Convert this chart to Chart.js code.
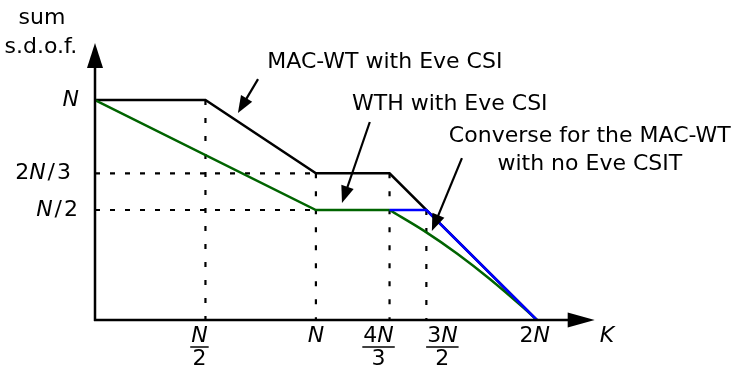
<!DOCTYPE html>
<html lang="en">
<head>
<meta charset="UTF-8">
<title>Sum s.d.o.f. versus K</title>
<script src="https://cdn.jsdelivr.net/npm/chart.js"></script>
<style>
    body { margin: 0; background: #ffffff; }
    .wrap { position: relative; width: 731px; height: 366px; }
</style>
</head>
<body>
<div class="wrap"><canvas id="sdofChart"></canvas></div>
<script>
// every value is in units of N
const macWtK    = [0, 0.5, 1, 4/3, 2];
const macWtSdof = [1, 1, 2/3, 2/3, 0];

const wthK    = [0, 1, 4/3];
const wthSdof = [1, 0.5, 0.5];
// curved tail of the WTH scheme
const wthCurveK    = [4/3, 1.49, 1.64, 1.79, 1.94, 2];
const wthCurveSdof = [0.5, 0.405, 0.301, 0.184, 0.055, 0];

const converseK    = [4/3, 1.5, 2];
const converseSdof = [0.5, 0.5, 0];

// dotted guides: verticals drop from the curve, horizontals run to K = N
const guideK      = [0.5, 1, 4/3, 1.5];
const guideTop    = [1, 2/3, 2/3, 0.5];
const guideLevels = [2/3, 0.5];
const guideLevelEnd = 1;

// tick labels ('|' = stacked fraction)
const xTickValues = [0.5, 1, 4/3, 1.5, 2];
const xTickLabels = ['N|2', 'N', '4N|3', '3N|2', '2N'];
const yTickValues = [1, 2/3, 0.5];
const yTickLabels = ['N', '2N/3', 'N/2'];

const FONT = 'DejaVu Sans';
const SIZE = 22;

// layout only (pixels / data positions of labels and callouts)
const xLabelShift = [-6, 0, -11, 16, -2];
const yLabelRight = [79, 71, 78];
const notes = [
    { lines: ['MAC-WT with Eve CSI'], x: 1.312, y: 1.145, from: [0.738, 1.095], to: [0.647, 0.941] },
    { lines: ['WTH with Eve CSI'], x: 1.606, y: 0.955, from: [1.244, 0.90], to: [1.118, 0.532] },
    { lines: ['Converse for the MAC-WT', 'with no Eve CSIT'], x: 2.24, y: 0.809, from: [1.661, 0.736], to: [1.525, 0.405] }
];

function pts(xs, ys) {
    return xs.map((x, i) => ({ x: x, y: ys[i] }));
}

function fontFor(italic) {
    return (italic ? 'italic ' : '') + SIZE + 'px "' + FONT + '"';
}

function mathWidth(ctx, s) {
    let w = 0;
    for (const ch of s) {
        ctx.font = fontFor(ch === 'N' || ch === 'K');
        w += ctx.measureText(ch).width + (ch === '/' ? 4 : 0);
    }
    return w;
}

function drawMath(ctx, s, x, y, align) {
    const w = mathWidth(ctx, s);
    let cx = align === 'right' ? x - w : align === 'center' ? x - w / 2 : x;
    ctx.textAlign = 'left';
    for (const ch of s) {
        const it = ch === 'N' || ch === 'K';
        ctx.font = fontFor(it);
        if (ch === '/') cx += 2;
        ctx.fillText(ch, cx, y);
        cx += ctx.measureText(ch).width + (ch === '/' ? 2 : 0);
    }
}

function arrowHead(ctx, x1, y1, x2, y2, len, half) {
    const a = Math.atan2(y2 - y1, x2 - x1);
    ctx.beginPath();
    ctx.moveTo(x2, y2);
    ctx.lineTo(x2 - len * Math.cos(a) + half * Math.sin(a), y2 - len * Math.sin(a) - half * Math.cos(a));
    ctx.lineTo(x2 - len * Math.cos(a) - half * Math.sin(a), y2 - len * Math.sin(a) + half * Math.cos(a));
    ctx.closePath();
    ctx.fill();
}

const decor = {
    id: 'decor',
    afterDraw(chart) {
        const ctx = chart.ctx;
        const xs = chart.scales.x, ys = chart.scales.y;
        const px = v => xs.getPixelForValue(v);
        const py = v => ys.getPixelForValue(v);
        ctx.save();
        ctx.fillStyle = '#000';
        ctx.strokeStyle = '#000';
        ctx.textBaseline = 'alphabetic';

        // axes with arrow heads
        const x0 = px(0), y0 = py(0);
        const xEnd = px(2.262), yEnd = py(1.259);
        ctx.lineWidth = 2.5;
        ctx.beginPath();
        ctx.moveTo(x0, y0 + 1);
        ctx.lineTo(x0, yEnd + 20);
        ctx.moveTo(x0 - 1, y0);
        ctx.lineTo(xEnd - 20, y0);
        ctx.stroke();
        arrowHead(ctx, x0, y0, x0, yEnd, 25, 8);
        arrowHead(ctx, x0, y0, xEnd, y0, 27, 7.5);

        // x tick labels
        xTickValues.forEach((v, i) => {
            const cx = px(v) + xLabelShift[i];
            const lab = xTickLabels[i];
            if (lab.includes('|')) {
                const [num, den] = lab.split('|');
                const w = Math.max(mathWidth(ctx, num), mathWidth(ctx, den));
                drawMath(ctx, num, cx, y0 + 22, 'center');
                ctx.lineWidth = 1.5;
                ctx.beginPath();
                ctx.moveTo(cx - w / 2 - 1, y0 + 27);
                ctx.lineTo(cx + w / 2 + 1, y0 + 27);
                ctx.stroke();
                drawMath(ctx, den, cx, y0 + 45, 'center');
            } else {
                drawMath(ctx, lab, cx, y0 + 22, 'center');
            }
        });
        drawMath(ctx, 'K', px(2.317), y0 + 22, 'center');

        // y tick labels
        ctx.textBaseline = 'middle';
        yTickValues.forEach((v, i) => {
            drawMath(ctx, yTickLabels[i], yLabelRight[i], py(v), 'right');
        });

        // y axis title
        ctx.textBaseline = 'alphabetic';
        ctx.textAlign = 'center';
        ctx.font = fontFor(false);
        ctx.fillText('sum', px(-0.24), py(1.345));
        ctx.fillText('s.d.o.f.', px(-0.245), py(1.215));

        // callouts
        notes.forEach(n => {
            ctx.font = fontFor(false);
            ctx.textAlign = 'center';
            n.lines.forEach((t, k) => ctx.fillText(t, px(n.x), py(n.y) + k * 28));
            const fx = px(n.from[0]), fy = py(n.from[1]);
            const tx = px(n.to[0]), ty = py(n.to[1]);
            const a = Math.atan2(ty - fy, tx - fx);
            ctx.lineWidth = 2.2;
            ctx.beginPath();
            ctx.moveTo(fx, fy);
            ctx.lineTo(tx - 10 * Math.cos(a), ty - 10 * Math.sin(a));
            ctx.stroke();
            arrowHead(ctx, fx, fy, tx, ty, 17, 6.5);
        });
        ctx.restore();
    }
};

const lineStyle = { pointRadius: 0, fill: false, tension: 0 };

const datasets = [
    { label: 'Converse for the MAC-WT with no Eve CSIT', data: pts(converseK, converseSdof), borderColor: '#0000ff', borderWidth: 2.5, ...lineStyle },
    { label: 'WTH with Eve CSI (tail)', data: pts(wthCurveK, wthCurveSdof), borderColor: '#006400', borderWidth: 2.5, ...lineStyle, cubicInterpolationMode: 'monotone' },
    { label: 'WTH with Eve CSI', data: pts(wthK, wthSdof), borderColor: '#006400', borderWidth: 2.5, ...lineStyle },
    { label: 'MAC-WT with Eve CSI', data: pts(macWtK, macWtSdof), borderColor: '#000000', borderWidth: 2.5, ...lineStyle }
];
guideK.forEach((k, i) => {
    datasets.push({ label: 'guide', data: [{ x: k, y: guideTop[i] }, { x: k, y: 0 }], borderColor: '#000', borderWidth: 2.2, borderDash: [5, 13], ...lineStyle });
});
guideLevels.forEach(v => {
    datasets.push({ label: 'guide', data: [{ x: 0, y: v }, { x: guideLevelEnd, y: v }], borderColor: '#000', borderWidth: 2.2, borderDash: [5, 10], ...lineStyle });
});

new Chart(document.getElementById('sdofChart'), {
    type: 'line',
    data: { datasets: datasets },
    options: {
        responsive: true,
        maintainAspectRatio: false,
        animation: false,
        layout: { padding: { left: 95, right: 150, top: 45, bottom: 46 } },
        plugins: { legend: { display: false }, tooltip: { enabled: false } },
        scales: {
            x: { type: 'linear', min: 0, max: 2.2, display: false },
            y: { type: 'linear', min: 0, max: 1.25, display: false }
        }
    },
    plugins: [decor]
});
</script>
</body>
</html>
